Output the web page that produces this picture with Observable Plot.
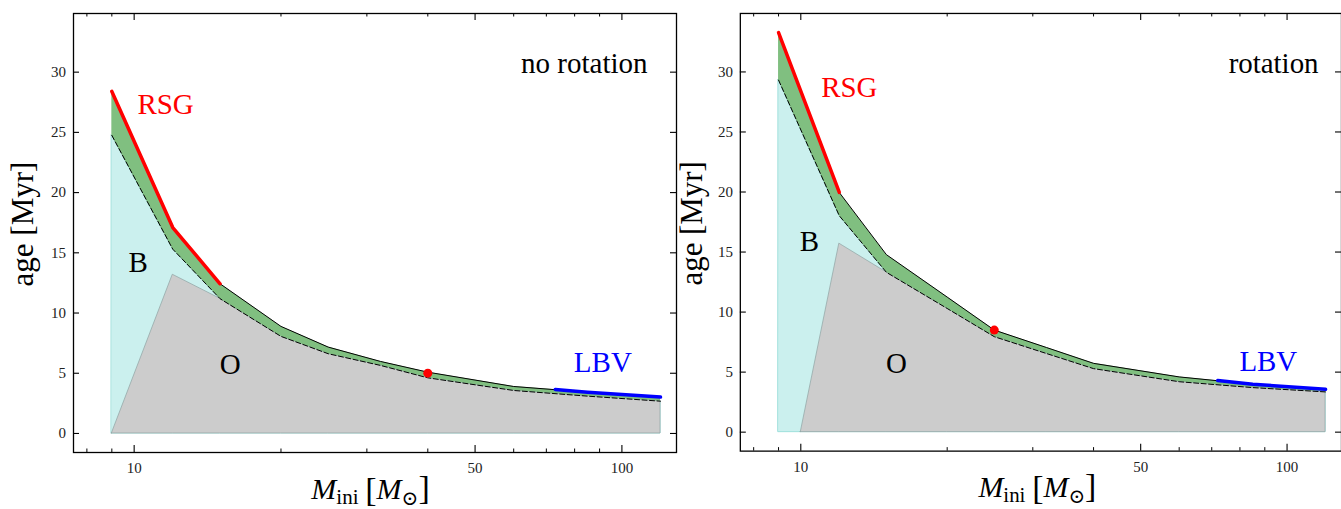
<!DOCTYPE html>
<html><head><meta charset="utf-8">
<script src="https://cdn.jsdelivr.net/npm/d3@7"></script>
<script src="https://cdn.jsdelivr.net/npm/@observablehq/plot@0.6"></script>
<style>
html,body{margin:0;padding:0;background:#fff;overflow:hidden;}
#wrap{position:relative;width:1341px;height:509px;overflow:hidden;}
#left{position:absolute;left:0;top:0;}
#right{position:absolute;left:680px;top:0;}
svg text{font-family:'Liberation Serif','DejaVu Serif',serif;}
</style></head><body>
<div id="wrap"><div id="left"></div><div id="right"></div></div>
<script>
// ---- data ----
const masses = [9, 12, 15, 20, 25, 32, 40, 60, 85, 120];
// no rotation
const endLifeNoRot = [28.4, 17.1, 12.43, 8.89, 7.17, 5.98, 5.09, 3.9, 3.43, 3.02];
const endMSNoRot   = [24.75, 15.3, 11.19, 8.06, 6.62, 5.65, 4.62, 3.57, 3.10, 2.68];
const oMassNoRot   = [9, 12, 15, 20, 25, 32, 40, 60, 85, 120];
const oTopNoRot    = [0, 13.18, 11.19, 8.06, 6.62, 5.65, 4.62, 3.57, 3.10, 2.68];
const rsgMassNoRot = [9, 12, 15];
const rsgAgeNoRot  = [28.4, 17.1, 12.43];
const lbvMassNoRot = [73, 85, 120];
const lbvAgeNoRot  = [3.66, 3.43, 3.02];
const dotMassNoRot = [40];
const dotAgeNoRot  = [5.01];
// rotation
const endLifeRot = [33.28, 19.96, 14.78, 11.25, 8.5, 7.05, 5.73, 4.6, 3.99, 3.57];
const endMSRot   = [29.32, 18.02, 13.31, 10.3, 7.95, 6.55, 5.29, 4.2, 3.71, 3.35];
const oMassRot   = [10, 12, 15, 20, 25, 32, 40, 60, 85, 120];
const oTopRot    = [0, 15.7, 13.31, 10.3, 7.95, 6.55, 5.29, 4.2, 3.71, 3.35];
const rsgMassRot = [9, 12];
const rsgAgeRot  = [33.28, 19.96];
const lbvMassRot = [72, 85, 120];
const lbvAgeRot  = [4.3, 3.99, 3.57];
const dotMassRot = [25];
const dotAgeRot  = [8.5];
// ticks
const majorXTicks = [10, 50, 100];
const minorXTicks = [8, 9, 20, 30, 40, 60, 70, 80, 90];
const yTicks = [0, 5, 10, 15, 20, 25, 30];

const xDomain = [7.51, 129.4];
const yDomain = [-1.58, 34.87];
const SERIF = "'Liberation Serif', 'DejaVu Serif', serif";

function panel(c) {
  const H = 509, mt = 13, mb = 57;
  const fh = H - mt - mb, fw = c.width - c.ml - c.mr;
  const rows = masses.map((m, i) => ({m, up: c.up[i], lo: c.lo[i]}));
  const orows = c.oMass.map((m, i) => ({m, top: c.oTop[i]}));
  const rsg = c.rsgM.map((m, i) => ({m, a: c.rsgA[i]}));
  const lbv = c.lbvM.map((m, i) => ({m, a: c.lbvA[i]}));
  const dots = c.dotM.map((m, i) => ({m, a: c.dotA[i]}));
  const svg = Plot.plot({
    width: c.width, height: H,
    marginTop: mt, marginBottom: mb, marginLeft: c.ml, marginRight: c.mr,
    x: {type: "log", domain: xDomain},
    y: {domain: yDomain},
    style: `font-family: ${SERIF}; background: white; color: black; overflow: visible;`,
    marks: [
      Plot.areaY(rows, {x: "m", y1: 0, y2: "lo", fill: "#cbf0ee", stroke: "#9fe0dc", strokeWidth: 1}),
      Plot.areaY(orows, {x: "m", y1: 0, y2: "top", fill: "#cccccc", stroke: "#8fa3a3", strokeOpacity: 0.7, strokeWidth: 1}),
      Plot.areaY(rows, {x: "m", y1: "lo", y2: "up", fill: "#80bf80"}),
      Plot.line(rows, {x: "m", y: "lo", stroke: "black", strokeWidth: 1, strokeDasharray: "5,2.5"}),
      Plot.line(rows, {x: "m", y: "up", stroke: "black", strokeWidth: 1}),
      Plot.line(rsg, {x: "m", y: "a", stroke: "#ff0000", strokeWidth: 3.5}),
      Plot.line(lbv, {x: "m", y: "a", stroke: "#0000ff", strokeWidth: 3.5}),
      Plot.dot(dots, {x: "m", y: "a", r: 4.5, fill: "#ff0000", stroke: null}),
      Plot.text(["RSG"], {x: c.rsgLab[0], y: c.rsgLab[1], text: d => d, fill: "#ff0000", fontSize: 29, fontFamily: SERIF}),
      Plot.text(["LBV"], {x: c.lbvLab[0], y: c.lbvLab[1], text: d => d, fill: "#0000ff", fontSize: 29, fontFamily: SERIF}),
      Plot.text(["B"], {x: c.bLab[0], y: c.bLab[1], text: d => d, fill: "black", fontSize: 29, fontFamily: SERIF}),
      Plot.text(["O"], {x: c.oLab[0], y: c.oLab[1], text: d => d, fill: "black", fontSize: 29, fontFamily: SERIF}),
      Plot.text([c.title], {frameAnchor: "top-right", text: d => d, textAnchor: "end", lineAnchor: "middle", dx: c.titleDx, dy: 50, fontSize: 29, fill: "black", fontFamily: SERIF}),
      Plot.text(["age [Myr]"], {frameAnchor: "left", text: d => d, rotate: -90, textAnchor: "middle", lineAnchor: "middle", dx: c.ylabDx, dy: -9, fontSize: 31, fill: "black", fontFamily: SERIF}),
      // inward ticks
      Plot.tickX(majorXTicks, {x: d => d, insetTop: fh - 7, stroke: "black", strokeWidth: 1.1}),
      Plot.tickX(majorXTicks, {x: d => d, insetBottom: fh - 7, stroke: "black", strokeWidth: 1.1}),
      Plot.tickX(minorXTicks, {x: d => d, insetTop: fh - 3.5, stroke: "black", strokeWidth: 1}),
      Plot.tickX(minorXTicks, {x: d => d, insetBottom: fh - 3.5, stroke: "black", strokeWidth: 1}),
      Plot.tickY(yTicks, {y: d => d, insetRight: fw - 6, stroke: "black", strokeWidth: 1.1}),
      Plot.tickY(yTicks, {y: d => d, insetLeft: fw - 6, stroke: "black", strokeWidth: 1.1}),
      Plot.axisX(majorXTicks, {tickSize: 0, tickPadding: 10, tickFormat: d => String(d), label: null, fontSize: 15, fill: "#222", fontFamily: SERIF}),
      Plot.axisY(yTicks, {tickSize: 0, tickPadding: 7.5, tickFormat: d => String(d), label: null, fontSize: 15, fill: "#222", fontFamily: SERIF}),
      Plot.frame({stroke: "black", strokeWidth: 1.3})
    ]
  });
  // x-axis label with math-style parts
  const cx = c.ml + fw / 2 + c.xlabShift;
  const t = d3.select(svg).append("text")
    .attr("x", cx).attr("y", 499)
    .attr("text-anchor", "middle")
    .attr("font-family", SERIF).attr("font-size", 30).attr("fill", "black");
  t.append("tspan").attr("font-style", "italic").text("M");
  t.append("tspan").attr("font-size", 21).attr("dy", 5).text("ini");
  t.append("tspan").attr("font-size", 34).attr("dy", -3).text("\u2009[");
  t.append("tspan").attr("font-style", "italic").attr("font-size", 30).attr("dy", -2).text("M");
  t.append("tspan").attr("font-size", 20).attr("dy", 6).text("\u2299");
  t.append("tspan").attr("font-size", 34).attr("dy", -6).text("]");
  return svg;
}

document.getElementById("left").append(panel({
  width: 680, ml: 73, mr: 4,
  up: endLifeNoRot, lo: endMSNoRot, oMass: oMassNoRot, oTop: oTopNoRot,
  rsgM: rsgMassNoRot, rsgA: rsgAgeNoRot, lbvM: lbvMassNoRot, lbvA: lbvAgeNoRot,
  dotM: dotMassNoRot, dotA: dotAgeNoRot,
  rsgLab: [11.6, 27.3], lbvLab: [91.4, 5.9], bLab: [10.19, 14.2], oLab: [15.73, 5.73],
  title: "no rotation", titleDx: -29, ylabDx: -50, xlabShift: -4
}));
document.getElementById("right").append(panel({
  width: 663, ml: 60, mr: 0,
  up: endLifeRot, lo: endMSRot, oMass: oMassRot, oTop: oTopRot,
  rsgM: rsgMassRot, rsgA: rsgAgeRot, lbvM: lbvMassRot, lbvA: lbvAgeRot,
  dotM: dotMassRot, dotA: dotAgeRot,
  rsgLab: [12.58, 28.7], lbvLab: [91.5, 5.9], bLab: [10.42, 15.86], oLab: [15.72, 5.73],
  title: "rotation", titleDx: -23, ylabDx: -48, xlabShift: -3
}));
</script>
</body></html>
